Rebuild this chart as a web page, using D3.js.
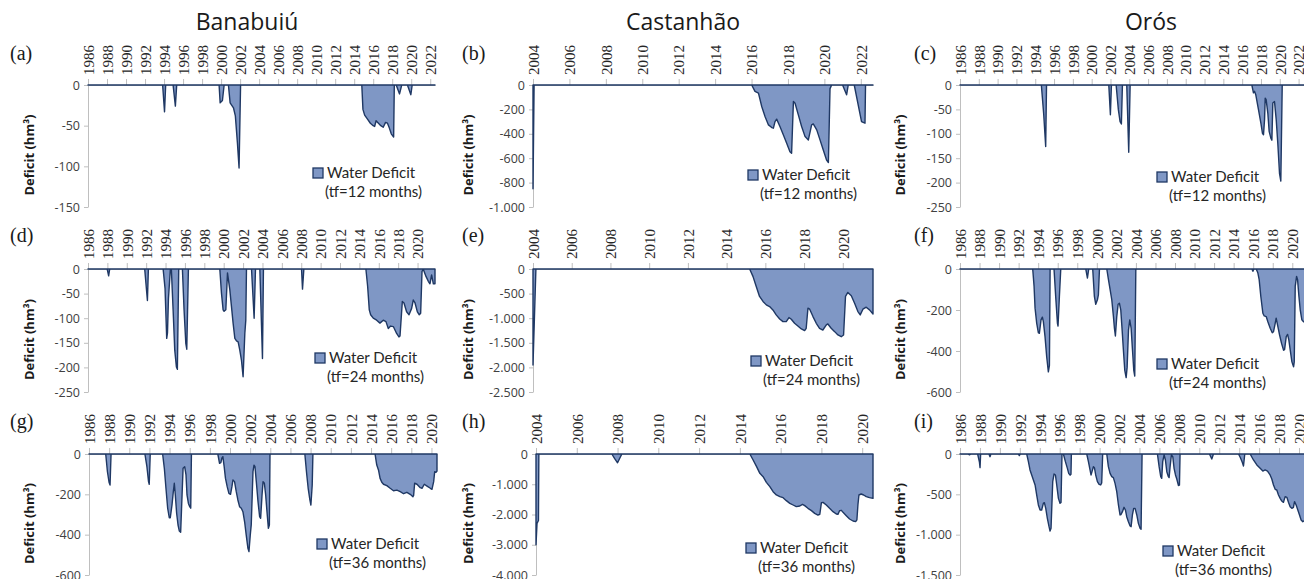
<!DOCTYPE html>
<html>
<head>
<meta charset="utf-8">
<script src="https://cdn.jsdelivr.net/npm/d3@7"></script>
<style>
  body { margin: 0; background: #fff; }
  svg { display: block; }
</style>
</head>
<body>
<svg id="chart" width="1304" height="579"></svg>
<script>
// ---- Reservoirs and deficit horizons ----
const reservoirs = ["Banabuiú", "Castanhão", "Orós"];
const horizons = [12, 24, 36];
const panelLetters = ["a", "b", "c", "d", "e", "f", "g", "h", "i"];

// ---- Tick labels ----
const years1986to2022 = [1986,1988,1990,1992,1994,1996,1998,2000,2002,2004,2006,2008,2010,2012,2014,2016,2018,2020,2022];
const years1986to2020 = [1986,1988,1990,1992,1994,1996,1998,2000,2002,2004,2006,2008,2010,2012,2014,2016,2018,2020];
const years2004to2022 = [2004,2006,2008,2010,2012,2014,2016,2018,2020,2022];
const years2004to2020 = [2004,2006,2008,2010,2012,2014,2016,2018,2020];

const yTicksA = [0, -50, -100, -150];
const yTicksB = [0, -200, -400, -600, -800, -1000];
const yTicksC = [0, -50, -100, -150, -200, -250];
const yTicksD = [0, -50, -100, -150, -200, -250];
const yTicksE = [0, -500, -1000, -1500, -2000, -2500];
const yTicksF = [0, -200, -400, -600];
const yTicksG = [0, -200, -400, -600];
const yTicksH = [0, -1000, -2000, -3000, -4000];
const yTicksI = [0, -500, -1000, -1500];

// ---- Time spans of each series (decimal years) ----
const spanA = [1986, 2022.5];
const spanB = [2004, 2022.67];
const spanC = [1986, 2023];
const spanD = [1986, 2021.8];
const spanE = [2004, 2021.56];
const spanF = [1986, 2021.3];
const spanG = [1986, 2020.55];
const spanH = [2004, 2020.53];
const spanI = [1986, 2020.7];

// ---- Water deficit series: [decimal year, deficit hm³] ----
const banabuiu12 = [
  [1986,0],
  [1993.85,0],[1994.05,-33],[1994.17,0],
  [1994.95,0],[1995.19,-26],[1995.33,0],
  [1999.79,0],[1999.9,-22],[2000.14,-19],[2000.32,0],
  [2000.77,0],[2000.95,-22],[2001.3,-28],[2001.5,-38],[2001.72,-72],[2001.89,-102],[2002.05,0],
  [2014.8,0],[2014.92,-30],[2015.1,-37],[2015.4,-42],[2015.7,-47],[2016.0,-50],[2016.15,-51],[2016.3,-44],[2016.55,-47],[2016.8,-50],[2017.05,-52],[2017.3,-46],[2017.5,-47],[2017.7,-53],[2017.9,-60],[2018.15,-64],[2018.22,0],
  [2018.42,0],[2018.77,-11],[2019.0,0],
  [2019.6,0],[2019.96,-12],[2020.1,0],
  [2022.5,0]
];

const castanhao12 = [
  [2004,-850],[2004.06,0],
  [2016.01,0],[2016.19,-52],[2016.38,-66],[2016.56,-176],[2016.74,-258],[2016.93,-327],[2017.11,-349],[2017.2,-354],[2017.29,-300],[2017.38,-280],[2017.56,-340],[2017.75,-409],[2017.93,-478],[2018.11,-547],[2018.2,-560],[2018.3,-135],[2018.39,-150],[2018.57,-245],[2018.75,-340],[2018.94,-423],[2019.12,-450],[2019.3,-327],[2019.39,-319],[2019.58,-368],[2019.76,-450],[2019.94,-533],[2020.12,-615],[2020.22,-635],[2020.31,-30],[2020.4,0],
  [2021.0,0],[2021.22,-80],[2021.31,0],
  [2021.64,0],[2022.04,-300],[2022.23,-313],[2022.26,0],
  [2022.67,0]
];

const oros12 = [
  [1986,0],
  [1994.65,0],[1994.9,-60],[1995.11,-126],[1995.2,0],
  [2001.82,0],[2001.99,-61],[2002.1,0],
  [2002.6,0],[2002.84,-51],[2003.02,-75],[2003.16,-80],[2003.27,0],
  [2003.73,0],[2003.94,-138],[2004.09,0],
  [2017.03,0],[2017.2,-16],[2017.31,-13],[2017.45,-20],[2017.74,-51],[2017.99,-78],[2018.16,-99],[2018.27,-102],[2018.38,-71],[2018.45,-27],[2018.55,-30],[2018.73,-58],[2018.87,-95],[2019.05,-109],[2019.16,-113],[2019.26,-37],[2019.44,-34],[2019.62,-71],[2019.79,-120],[2019.97,-181],[2020.11,-197],[2020.26,0],
  [2023,0]
];

const banabuiu24 = [
  [1986,0],
  [1987.98,0],[1988.13,-14],[1988.24,0],
  [1991.85,0],[1992.13,-64],[1992.23,0],
  [1993.75,0],[1993.95,-40],[1994.05,-100],[1994.12,-141],[1994.2,-130],[1994.3,-60],[1994.5,0],
  [1994.6,0],[1994.78,-83],[1994.95,-165],[1995.12,-199],[1995.22,-204],[1995.36,0],
  [1995.74,0],[1995.91,-83],[1996.09,-151],[1996.19,-163],[1996.36,0],
  [1999.6,0],[1999.77,-49],[1999.94,-83],[2000.04,-86],[2000.22,-83],[2000.39,-8],[2000.63,-42],[2000.8,-76],[2000.97,-110],[2001.15,-141],[2001.32,-146],[2001.49,-148],[2001.66,-165],[2001.83,-185],[2002.0,-219],[2002.18,-131],[2002.28,-104],[2002.35,0],
  [2002.87,0],[2003.14,-100],[2003.28,0],
  [2003.73,0],[2004.0,-182],[2004.1,0],
  [2008.03,0],[2008.13,-41],[2008.27,0],
  [2014.67,0],[2014.85,-35],[2015.02,-83],[2015.16,-93],[2015.43,-100],[2015.78,-104],[2016.12,-110],[2016.46,-104],[2016.74,-107],[2016.98,-121],[2017.22,-116],[2017.5,-117],[2017.84,-131],[2018.08,-138],[2018.19,-136],[2018.43,-66],[2018.6,-69],[2018.87,-87],[2019.12,-93],[2019.39,-80],[2019.56,-63],[2019.74,-69],[2019.98,-87],[2020.18,-93],[2020.32,-90],[2020.46,-5],[2020.6,-1],[2020.87,-15],[2021.11,-25],[2021.28,-30],[2021.45,-12],[2021.63,-30],[2021.8,-30]
];

const castanhao24 = [
  [2004,-1950],[2004.15,0],
  [2015.19,0],[2015.36,-150],[2015.53,-354],[2015.7,-558],[2015.88,-660],[2016.05,-729],[2016.22,-763],[2016.39,-831],[2016.56,-933],[2016.74,-1015],[2016.91,-1069],[2017.08,-1069],[2017.22,-987],[2017.34,-1021],[2017.51,-1103],[2017.68,-1158],[2017.86,-1219],[2018.03,-1253],[2018.11,-1205],[2018.2,-797],[2018.29,-817],[2018.46,-967],[2018.63,-1103],[2018.8,-1205],[2018.97,-1240],[2019.15,-1137],[2019.23,-1117],[2019.4,-1205],[2019.58,-1273],[2019.75,-1341],[2019.92,-1376],[2020.04,-1341],[2020.14,-558],[2020.26,-477],[2020.44,-545],[2020.61,-695],[2020.78,-865],[2020.9,-933],[2021.04,-817],[2021.21,-776],[2021.38,-831],[2021.56,-913]
];

const oros24 = [
  [1986,0],
  [1993.44,0],[1993.58,-85],[1993.68,-191],[1993.85,-265],[1994.02,-311],[1994.12,-314],[1994.29,-248],[1994.43,-235],[1994.53,-257],[1994.7,-330],[1994.87,-428],[1995.04,-502],[1995.15,-470],[1995.22,0],
  [1995.62,0],[1995.79,-134],[1995.97,-265],[1996.03,-278],[1996.17,-134],[1996.31,0],
  [1998.87,0],[1999.04,-44],[1999.17,0],
  [1999.58,0],[1999.75,-134],[1999.89,-172],[2000.06,-150],[2000.16,-126],[2000.27,0],
  [2001.02,0],[2001.19,-52],[2001.36,-101],[2001.53,-150],[2001.7,-232],[2001.8,-289],[2001.9,-327],[2002.04,-232],[2002.18,-172],[2002.31,-167],[2002.45,-199],[2002.59,-298],[2002.72,-396],[2002.86,-494],[2003.0,-530],[2003.1,-480],[2003.24,-298],[2003.37,-248],[2003.51,-289],[2003.65,-396],[2003.78,-494],[2003.88,-522],[2003.99,0],
  [2015.86,0],[2015.97,-11],[2016.07,0],
  [2016.31,0],[2016.48,-20],[2016.61,-52],[2016.78,-134],[2016.99,-216],[2017.13,-229],[2017.33,-232],[2017.5,-257],[2017.74,-289],[2017.95,-311],[2018.08,-306],[2018.25,-265],[2018.35,-240],[2018.49,-273],[2018.7,-322],[2018.9,-363],[2019.11,-396],[2019.21,-393],[2019.38,-330],[2019.52,-319],[2019.65,-347],[2019.79,-396],[2019.96,-453],[2020.13,-477],[2020.2,-453],[2020.3,-85],[2020.44,-36],[2020.54,-52],[2020.68,-134],[2020.81,-199],[2020.98,-248],[2021.15,-257],[2021.3,-257]
];

const banabuiu36 = [
  [1986,0],
  [1987.66,0],[1987.83,-88],[1987.99,-140],[1988.09,-154],[1988.19,0],
  [1991.55,0],[1991.75,-63],[1991.91,-137],[1991.98,-150],[1992.08,0],
  [1993.31,0],[1993.48,-71],[1993.64,-170],[1993.81,-269],[1993.97,-316],[1994.07,-316],[1994.24,-253],[1994.37,-187],[1994.47,-145],[1994.57,-203],[1994.7,-294],[1994.84,-352],[1994.97,-382],[1995.1,-388],[1995.24,-203],[1995.34,-71],[1995.5,-63],[1995.63,-104],[1995.73,-203],[1995.87,-245],[1996.0,-261],[1996.1,-269],[1996.17,0],
  [1998.79,0],[1998.96,-46],[1999.09,-43],[1999.19,-21],[1999.29,-13],[1999.42,-63],[1999.55,-121],[1999.72,-162],[1999.89,-195],[2000.05,-200],[2000.19,-162],[2000.29,-129],[2000.45,-137],[2000.62,-187],[2000.78,-228],[2000.95,-261],[2001.12,-269],[2001.28,-286],[2001.45,-336],[2001.61,-402],[2001.78,-468],[2001.88,-484],[2002.01,-402],[2002.11,-350],[2002.28,-88],[2002.38,-55],[2002.48,-63],[2002.61,-137],[2002.78,-236],[2002.94,-311],[2003.04,-319],[2003.18,-203],[2003.28,-137],[2003.41,-145],[2003.54,-203],[2003.67,-286],[2003.81,-369],[2003.91,-352],[2003.97,0],
  [2007.43,0],[2007.59,-88],[2007.76,-170],[2007.93,-228],[2008.03,-253],[2008.16,-155],[2008.23,0],
  [2014.4,0],[2014.57,-55],[2014.74,-79],[2014.9,-121],[2015.07,-140],[2015.24,-150],[2015.57,-157],[2015.9,-170],[2016.23,-182],[2016.57,-179],[2016.9,-187],[2017.23,-197],[2017.56,-190],[2017.89,-200],[2018.16,-212],[2018.23,-205],[2018.33,-145],[2018.56,-150],[2018.89,-167],[2019.06,-170],[2019.29,-150],[2019.56,-159],[2019.89,-170],[2020.05,-175],[2020.22,-137],[2020.32,-88],[2020.45,-91],[2020.55,-85]
];

const castanhao36 = [
  [2004,-3000],[2004.05,-2300],[2004.12,-2200],[2004.14,0],
  [2007.72,0],[2007.86,-150],[2008.0,-290],[2008.21,0],
  [2014.49,0],[2014.65,-198],[2014.82,-419],[2014.98,-639],[2015.14,-749],[2015.3,-937],[2015.47,-1080],[2015.63,-1245],[2015.79,-1355],[2015.96,-1410],[2016.12,-1444],[2016.28,-1543],[2016.45,-1631],[2016.61,-1686],[2016.77,-1741],[2016.94,-1719],[2017.07,-1664],[2017.18,-1708],[2017.34,-1796],[2017.51,-1873],[2017.67,-1962],[2017.83,-2017],[2017.92,-1995],[2018.0,-1609],[2018.08,-1598],[2018.24,-1686],[2018.4,-1796],[2018.57,-1906],[2018.73,-1984],[2018.81,-1995],[2018.89,-1873],[2018.98,-1862],[2019.06,-1928],[2019.22,-2039],[2019.38,-2149],[2019.55,-2215],[2019.68,-2237],[2019.74,-2180],[2019.79,-1686],[2019.84,-1355],[2019.95,-1322],[2020.07,-1355],[2020.2,-1410],[2020.36,-1444],[2020.53,-1466]
];

const oros36 = [
  [1986,0],
  [1986.8,0],[1986.95,-10],[1987.1,0],
  [1987.77,0],[1987.95,-100],[1988.01,-169],[1988.07,0],
  [1988.9,0],[1989.01,-33],[1989.1,0],
  [1991.85,0],[1991.95,-20],[1992.05,0],
  [1992.69,0],[1992.86,-95],[1993.02,-198],[1993.19,-260],[1993.36,-322],[1993.53,-384],[1993.69,-508],[1993.86,-632],[1994.03,-694],[1994.19,-694],[1994.36,-612],[1994.46,-603],[1994.6,-674],[1994.76,-798],[1994.93,-901],[1995.03,-955],[1995.13,-920],[1995.3,-343],[1995.43,-248],[1995.57,-260],[1995.7,-384],[1995.87,-550],[1996.03,-612],[1996.13,-600],[1996.23,0],
  [1996.37,0],[1996.57,-95],[1996.77,-178],[1996.9,-240],[1997.04,-262],[1997.13,-250],[1997.17,0],
  [1998.71,0],[1998.88,-95],[1999.04,-198],[1999.14,-260],[1999.24,-219],[1999.38,-157],[1999.48,-170],[1999.61,-260],[1999.78,-343],[1999.95,-376],[2000.11,-384],[2000.21,-360],[2000.31,0],
  [2000.72,0],[2000.88,-157],[2001.05,-240],[2001.22,-281],[2001.38,-293],[2001.55,-364],[2001.72,-467],[2001.89,-632],[2002.05,-756],[2002.15,-750],[2002.29,-715],[2002.45,-661],[2002.59,-694],[2002.72,-777],[2002.89,-839],[2003.06,-893],[2003.16,-901],[2003.29,-756],[2003.42,-674],[2003.56,-674],[2003.73,-756],[2003.89,-860],[2004.06,-921],[2004.16,-934],[2004.26,0],
  [2005.8,0],[2005.97,-157],[2006.13,-281],[2006.23,-302],[2006.33,-95],[2006.47,-12],[2006.6,-74],[2006.74,-219],[2006.9,-281],[2006.97,-293],[2007.07,-157],[2007.2,-12],[2007.34,-33],[2007.47,-178],[2007.61,-260],[2007.74,-310],[2007.91,-390],[2008.01,-385],[2008.07,0],
  [2011.02,0],[2011.25,-62],[2011.42,0],
  [2013.93,0],[2014.1,-40],[2014.3,-100],[2014.43,-149],[2014.56,0],
  [2015.1,0],[2015.43,-74],[2015.77,-136],[2016.1,-178],[2016.37,-211],[2016.6,-198],[2016.84,-211],[2017.1,-260],[2017.27,-310],[2017.44,-384],[2017.61,-438],[2017.77,-446],[2017.94,-508],[2018.11,-550],[2018.27,-583],[2018.44,-599],[2018.61,-529],[2018.78,-537],[2018.94,-599],[2019.11,-653],[2019.28,-674],[2019.44,-661],[2019.55,-591],[2019.71,-632],[2019.88,-694],[2020.05,-756],[2020.21,-818],[2020.38,-839],[2020.52,-830],[2020.7,-830]
];

// ---- Panel table (row-major: 12, 24, 36 months × three reservoirs) ----
const seriesList = [banabuiu12, castanhao12, oros12, banabuiu24, castanhao24, oros24, banabuiu36, castanhao36, oros36];
const spanList = [spanA, spanB, spanC, spanD, spanE, spanF, spanG, spanH, spanI];
const yTickList = [yTicksA, yTicksB, yTicksC, yTicksD, yTicksE, yTicksF, yTicksG, yTicksH, yTicksI];
const yearTickList = [years1986to2022, years2004to2022, years1986to2022, years1986to2020, years2004to2020, years1986to2020, years1986to2020, years2004to2020, years1986to2020];

// ---- Layout ----
const SANS = "'Open Sans', 'Noto Sans', sans-serif";
const LEGEND_FONT = "Lato, 'Open Sans', sans-serif";
const SERIF = "'Liberation Serif', 'DejaVu Serif', serif";
const FILL = "#7f97c5", EDGE = "#1f3864", AXIS = "#bfbfbf", TXT = "#404040";

const rowY = [[85, 207], [269, 392], [454, 575]];           // zero line / bottom of plot
const plotX = [[88, 435], [533, 873], [960, 1308],
               [88, 435], [533, 873], [960, 1305],
               [89, 437], [536, 873], [960, 1306]];
const legendPos = [[313, 168], [748, 170], [1157, 172],
                   [315, 353], [751, 356], [1157, 359],
                   [317, 539], [746, 543], [1163, 546]];
const titleX = [247, 683, 1151];
const yTitleX = [29, 468, 900];
const letterX = [10, 462, 914];
const letterY = [59.5, 242, 428];

const locale = d3.formatLocale({ decimal: ",", thousands: ".", grouping: [3], currency: ["", ""], minus: "-" });
const fmtY = locale.format(",d");

const svg = d3.select("#chart");

// Column titles
reservoirs.forEach((name, i) => {
  svg.append("text")
    .attr("x", titleX[i]).attr("y", 30)
    .attr("text-anchor", "middle")
    .attr("font-family", SANS).attr("font-size", 23)
    .attr("fill", "#1a1a1a")
    .text(name);
});

seriesList.forEach((data, k) => {
  const row = Math.floor(k / 3), col = k % 3;
  const [yTop, yBot] = rowY[row];
  const yTicks = yTickList[k];
  const x = d3.scaleLinear().domain(spanList[k]).range(plotX[k]);
  const y = d3.scaleLinear().domain([yTicks[yTicks.length - 1], 0]).range([yBot, yTop]);
  const g = svg.append("g");

  // Vertical value axis
  const ya = g.append("g")
    .attr("transform", `translate(${plotX[k][0]},0)`)
    .call(d3.axisLeft(y).tickValues(yTicks).tickFormat(fmtY).tickSize(4).tickSizeOuter(0).tickPadding(4));
  ya.select(".domain").attr("stroke", AXIS);
  ya.selectAll(".tick line").attr("stroke", AXIS);
  ya.selectAll(".tick text")
    .attr("font-family", SANS).attr("font-size", 12.5).attr("fill", TXT);

  // Time axis along the zero line, labels above
  const xa = g.append("g")
    .attr("transform", `translate(0,${yTop})`)
    .call(d3.axisTop(x).tickValues(yearTickList[k]).tickFormat(d3.format("d")).tickSize(6).tickSizeOuter(0));
  xa.select(".domain").attr("stroke", AXIS);
  xa.selectAll(".tick line").attr("stroke", AXIS);
  xa.selectAll(".tick text")
    .attr("transform", "rotate(-90)")
    .attr("x", 10).attr("y", 0).attr("dy", "0.35em")
    .attr("text-anchor", "start")
    .attr("font-family", SERIF).attr("font-size", 15).attr("fill", "#262626");

  // Deficit area
  const area = d3.area()
    .x(d => x(d[0]))
    .y0(y(0))
    .y1(d => y(d[1]));
  g.append("path")
    .datum(data)
    .attr("d", area)
    .attr("fill", FILL)
    .attr("stroke", EDGE)
    .attr("stroke-width", 1.4)
    .attr("stroke-linejoin", "round");

  // Axis title
  g.append("text")
    .attr("transform", `translate(${yTitleX[col]},${(yTop + yBot) / 2 + 9}) rotate(-90)`)
    .attr("dy", "0.35em")
    .attr("text-anchor", "middle")
    .attr("font-family", SANS).attr("font-size", 13).attr("font-weight", "bold")
    .attr("fill", "#1a1a1a")
    .text("Deficit (hm³)");

  // Panel letter
  g.append("text")
    .attr("x", letterX[col]).attr("y", letterY[row])
    .attr("font-family", SERIF).attr("font-size", 20)
    .attr("fill", "#1a1a1a")
    .text(`(${panelLetters[k]})`);

  // Legend
  const [lx, ly] = legendPos[k];
  g.append("rect")
    .attr("x", lx).attr("y", ly).attr("width", 10).attr("height", 10)
    .attr("fill", FILL).attr("stroke", EDGE).attr("stroke-width", 1.3);
  g.append("text")
    .attr("x", lx + 14).attr("y", ly + 10)
    .attr("font-family", LEGEND_FONT).attr("font-size", 15).attr("fill", "#262626")
    .text("Water Deficit");
  g.append("text")
    .attr("x", lx + 12).attr("y", ly + 29)
    .attr("font-family", LEGEND_FONT).attr("font-size", 15).attr("fill", "#262626")
    .text(`(tf=${horizons[row]} months)`);
});
</script>
</body>
</html>
